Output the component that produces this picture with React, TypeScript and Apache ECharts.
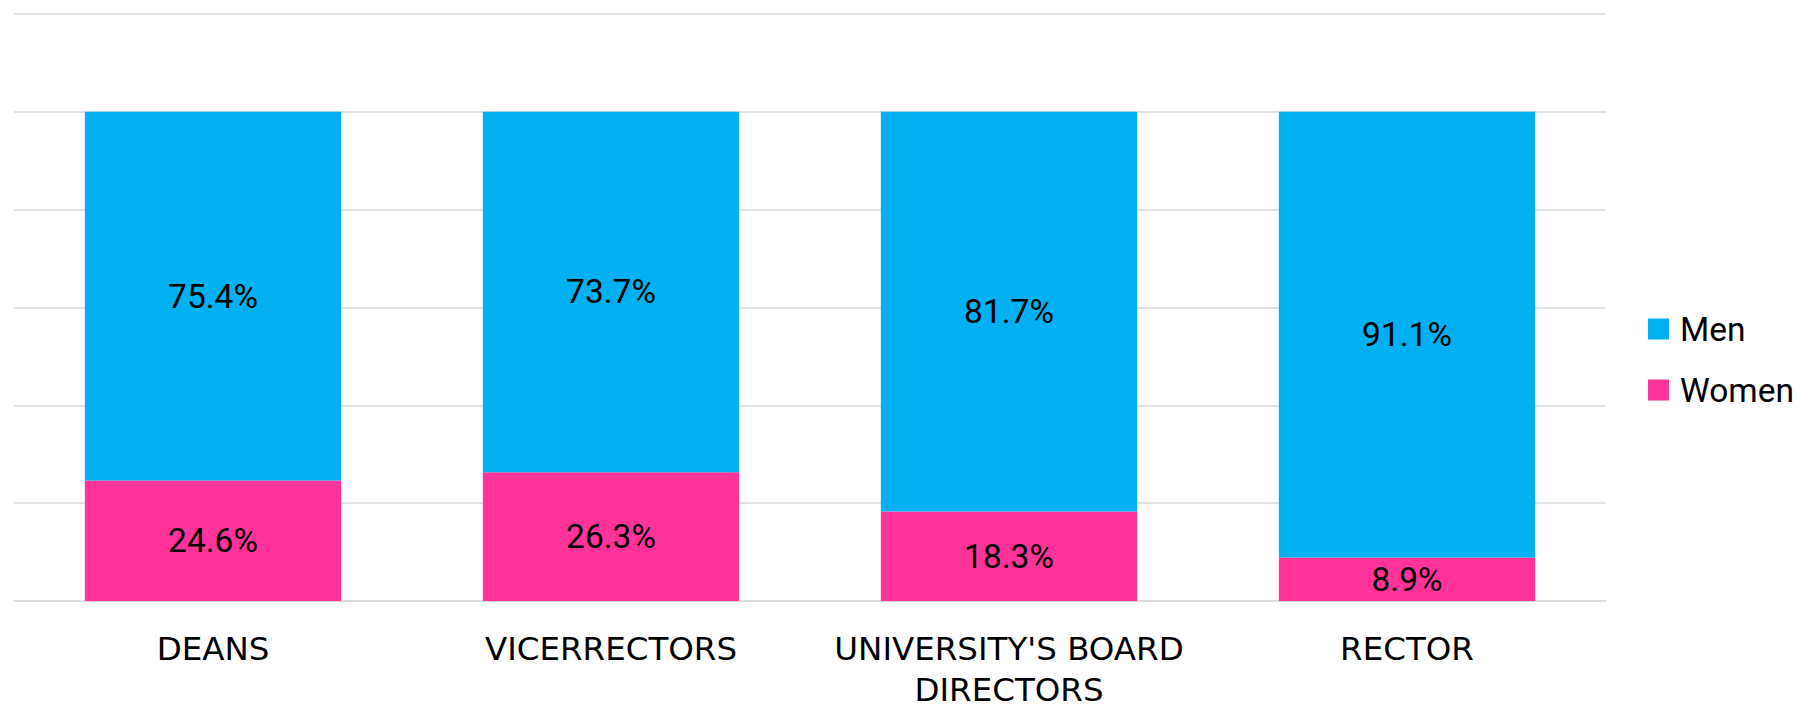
import React, { useEffect, useRef } from "react";
import * as echarts from "echarts";

const categories = ["DEANS", "VICERRECTORS", "UNIVERSITY'S BOARD\nDIRECTORS", "RECTOR"];
const menValues = [75.4, 73.7, 81.7, 91.1];
const womenValues = [24.6, 26.3, 18.3, 8.9];
const seriesNames = ["Men", "Women"];

export default function App() {
  const ref = useRef<HTMLDivElement>(null);
  useEffect(() => {
    if (!ref.current) return;
    const chart = echarts.init(ref.current, undefined, { renderer: "svg" });
    const labelStyle = {
      show: true,
      position: "inside",
      formatter: (p: any) => `${p.value}%`,
      color: "#000",
      fontFamily: "Roboto",
      fontSize: 33.5,
    };
    chart.setOption({
      animation: false,
      backgroundColor: "#fff",
      grid: {
        left: 14,
        right: 196,
        top: 13.8,
        bottom: 109,
        containLabel: false,
        outerBoundsMode: "none",
      },
      legend: {
        data: [seriesNames[0], seriesNames[1]],
        orient: "vertical",
        left: 1648,
        top: 312,
        padding: 0,
        itemWidth: 21,
        itemHeight: 21,
        itemGap: 27,
        icon: "rect",
        textStyle: { fontFamily: "Roboto", fontSize: 33.5, color: "#000", lineHeight: 34, padding: [0, 0, 0, 6] },
      },
      xAxis: {
        type: "category",
        data: categories,
        axisLine: { show: true, lineStyle: { color: "#d9d9d9", width: 1.5 } },
        axisTick: { show: false },
        axisLabel: {
          interval: 0,
          margin: 27,
          fontFamily: "DejaVu Sans",
          fontSize: 32.5,
          lineHeight: 41,
          color: "#000",
        },
      },
      yAxis: {
        type: "value",
        min: 0,
        max: 120,
        interval: 20,
        axisLabel: { show: false },
        axisLine: { show: false },
        axisTick: { show: false },
        splitLine: { lineStyle: { color: "#d9d9d9", width: 1.5 } },
      },
      series: [
        {
          name: seriesNames[1],
          type: "bar",
          stack: "total",
          data: womenValues,
          barWidth: "64.4%",
          itemStyle: { color: "#FF3399" },
          label: labelStyle,
        },
        {
          name: seriesNames[0],
          type: "bar",
          stack: "total",
          data: menValues,
          barWidth: "64.4%",
          itemStyle: { color: "#00B0F0" },
          label: labelStyle,
        },
      ],
    });
    return () => chart.dispose();
  }, []);
  return (
    <div
      ref={ref}
      style={{ position: "fixed", left: 0, top: 0, width: 1802, height: 710 }}
    />
  );
}
